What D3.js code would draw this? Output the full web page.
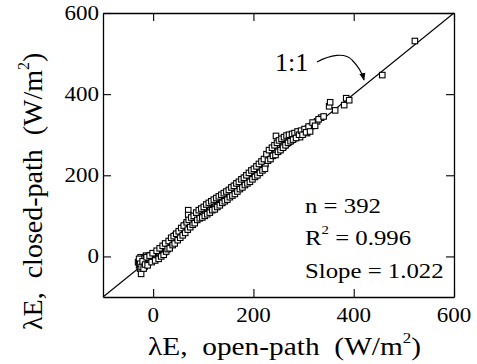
<!DOCTYPE html>
<html>
<head>
<meta charset="utf-8">
<script src="https://cdn.jsdelivr.net/npm/d3@7"></script>
<style>
  html, body { margin: 0; padding: 0; background: #fff; }
</style>
</head>
<body>
<svg id="chart" width="477" height="364" font-family="'Liberation Serif', 'DejaVu Serif', serif"></svg>
<script>
// Open-path (x) versus closed-path (y) latent heat flux, W/m²
const openPath = [
  -30,-28,-26,-24,-22,-25,-20,-18,-17,-15,-14,-12,-10,-9,-8,-6,-5,-4,-2,0,
  1,2,3,5,6,8,9,10,12,14,15,17,18,20,22,23,25,27,28,30,
  32,34,35,37,38,40,42,44,45,47,48,50,52,53,55,57,58,60,62,63,
  65,66,68,70,70,72,73,75,77,78,80,82,84,85,87,89,90,92,94,95,
  97,99,100,102,104,105,107,109,110,112,114,115,117,119,120,122,124,125,127,129,
  130,132,134,135,137,139,140,142,144,145,147,149,150,152,154,155,157,159,160,162,
  164,165,167,169,170,172,174,175,177,179,180,182,184,185,187,189,190,192,194,195,
  197,199,200,202,204,205,207,209,210,212,214,215,217,219,220,222,224,225,227,228,
  230,232,233,235,236,238,240,241,243,245,245,246,248,250,252,253,255,257,258,260,
  262,263,265,268,270,272,275,278,280,283,286,290,293,296,300,303,307,309,312,315,
  320,327,335,351,353,363,381,385,391,457,522,
  -28,-26,-23,-21,-19,-16,-13,-11,-7,-3,-1,4,7,11,13,16,19,21,24,26,
  29,31,33,36,39,41,43,46,49,51,54,56,59,61,64,67,69,71,74,76,
  79,81,83,86,88,91,93,96,98,101,103,106,108,111,113,116,118,121,123,126,
  128,131,133,136,138,141,143,146,148,151,153,156,158,161,163,166,168,171,173,176,
  178,181,183,186,188,191,193,196,198,201,203,206,208,211,213,216,218,221,223,226,
  229,231,234,237,239,242,244,247,249,251,254,256,259,261,264,266,269,271,274,277,
  279,282,285,288,291,295,298,302,305,310,313,318,323,330,340
];
const closedPath = [
  -14,-22,-30,-43,-8,-2,-18,-5,-25,-12,2,-8,-15,0,-5,-10,3,-2,-6,4,
  -3,-8,6,2,-4,10,3,-2,8,14,5,12,20,15,10,24,19,28,22,30,
  26,36,31,40,34,44,38,47,52,45,55,50,58,62,54,65,60,70,64,75,
  68,80,72,114,102,78,85,80,88,92,84,90,98,94,100,96,104,108,100,112,
  106,102,110,116,108,120,114,118,124,112,120,128,122,126,130,118,134,128,138,132,
  136,140,134,142,146,140,150,144,152,148,156,150,158,154,162,156,166,160,170,164,
  174,168,176,172,180,176,182,178,186,184,190,186,194,190,198,194,200,196,204,200,
  208,204,210,206,212,216,210,218,214,222,218,226,220,228,224,232,228,236,245,250,
  240,255,246,258,250,262,254,266,258,297,270,262,274,264,278,270,282,274,286,278,
  288,280,292,284,290,296,286,294,298,292,300,296,294,302,308,310,304,316,312,321,
  326,333,342,370,380,360,373,390,385,447,531,
  -6,-18,-26,-12,-30,-20,-2,-22,2,-14,8,-10,14,-6,20,0,26,4,32,12,
  18,38,20,46,28,50,32,56,40,62,46,70,52,76,58,84,66,90,72,96,
  78,100,82,108,90,114,94,118,96,122,100,128,104,132,108,136,114,140,116,144,
  122,148,126,152,132,156,136,160,140,164,146,170,150,174,154,180,160,184,166,190,
  170,194,176,200,180,206,184,212,190,216,196,222,200,228,206,234,212,240,216,252,
  236,262,240,268,248,274,250,280,258,286,262,290,268,294,274,298,280,300,284,302,
  288,304,292,308,300,310,300,314,306,320,308,330,322,338,345
];
const xTickValues = [0, 200, 400, 600];
const yTickValues = [0, 200, 400, 600];
const statLines = ["n = 392", "R² = 0.996", "Slope = 1.022"];

const svg = d3.select("#chart");
const x = d3.scaleLinear().domain([-100, 600]).range([103, 454]);
const y = d3.scaleLinear().domain([-100, 600]).range([297, 13]);

const frame = svg.append("g");

// 1:1 reference line across the full domain
frame.append("line")
  .attr("x1", x(-100)).attr("y1", y(-100))
  .attr("x2", x(600)).attr("y2", y(600))
  .attr("stroke", "#000").attr("stroke-width", 1.1);

// observations as small open squares
const s = 5.5;
frame.append("g").selectAll("rect")
  .data(d3.range(openPath.length))
  .join("rect")
  .attr("x", i => x(openPath[i]) - s / 2)
  .attr("y", i => y(closedPath[i]) - s / 2)
  .attr("width", s).attr("height", s)
  .attr("fill", "#fff").attr("stroke", "#000").attr("stroke-width", 1.1);

// axes on all four sides, ticks pointing inward
const tickLen = 8;
const axisBottomG = svg.append("g").attr("transform", `translate(0,${y(-100)})`)
  .call(d3.axisBottom(x).tickValues(xTickValues).tickSizeInner(-tickLen).tickSizeOuter(0).tickFormat(""));
const axisTopG = svg.append("g").attr("transform", `translate(0,${y(600)})`)
  .call(d3.axisTop(x).tickValues(xTickValues).tickSizeInner(-tickLen).tickSizeOuter(0).tickFormat(""));
const axisLeftG = svg.append("g").attr("transform", `translate(${x(-100)},0)`)
  .call(d3.axisLeft(y).tickValues(yTickValues).tickSizeInner(-tickLen).tickSizeOuter(0).tickFormat(""));
const axisRightG = svg.append("g").attr("transform", `translate(${x(600)},0)`)
  .call(d3.axisRight(y).tickValues(yTickValues).tickSizeInner(-tickLen).tickSizeOuter(0).tickFormat(""));
[axisBottomG, axisTopG, axisLeftG, axisRightG].forEach(g => {
  g.selectAll("path.domain").attr("stroke", "#000").attr("stroke-width", 1.3);
  g.selectAll(".tick line").attr("stroke", "#000").attr("stroke-width", 1.1);
});

// tick labels
const fs = 20, sx = 1.15;
svg.append("g").selectAll("text").data(xTickValues).join("text")
  .attr("transform", d => `translate(${x(d)},${y(-100) + 25}) scale(${sx},1)`)
  .attr("text-anchor", "middle").attr("font-size", fs).text(d => d);
svg.append("g").selectAll("text").data(yTickValues).join("text")
  .attr("transform", d => `translate(99,${y(d) + 7}) scale(${sx},1)`)
  .attr("text-anchor", "end").attr("font-size", fs).text(d => d);

// axis titles
const xt = svg.append("text")
  .attr("transform", `translate(148,355) scale(1.13,1)`)
  .attr("font-size", 26).attr("xml:space", "preserve");
xt.append("tspan").text("λE,  open-path  (W/m");
xt.append("tspan").attr("font-size", 15).attr("dy", -12).text("2");
xt.append("tspan").attr("dy", 12).text(")");

const yt = svg.append("text")
  .attr("transform", `translate(42,330) rotate(-90)`)
  .attr("font-size", 28).attr("xml:space", "preserve");
yt.append("tspan").text("λE,  closed-path  (W/m");
yt.append("tspan").attr("font-size", 16).attr("dy", -13).text("2");
yt.append("tspan").attr("dy", 13).text(")");

// regression statistics
const ssx = 1.24;
const stats = svg.append("g").attr("font-size", fs);
stats.append("text").attr("transform", `translate(305,213) scale(${ssx},1)`).text(statLines[0]);
const r2 = stats.append("text").attr("transform", `translate(305,245) scale(${ssx},1)`);
r2.append("tspan").text("R");
r2.append("tspan").attr("font-size", 12).attr("dy", -11).text("2");
r2.append("tspan").attr("dy", 11).text(statLines[1].slice(2));
stats.append("text").attr("transform", `translate(305,278) scale(${ssx},1)`).text(statLines[2]);

// 1:1 label with curved arrow to the line
svg.append("text").attr("transform", `translate(275,71)`)
  .attr("font-size", 26).text("1:1");
svg.append("defs").append("marker")
  .attr("id", "head").attr("viewBox", "0 0 10 10").attr("refX", 9).attr("refY", 5)
  .attr("markerWidth", 7).attr("markerHeight", 7).attr("orient", "auto")
  .append("path").attr("d", "M0,1 L10,5 L0,9 Z").attr("fill", "#000");
svg.append("path")
  .attr("d", "M317,62 C330,55 345,52 352,60 C358,66 362,72 364,80")
  .attr("fill", "none").attr("stroke", "#000").attr("stroke-width", 1.1)
  .attr("marker-end", "url(#head)");
</script>
</body>
</html>
